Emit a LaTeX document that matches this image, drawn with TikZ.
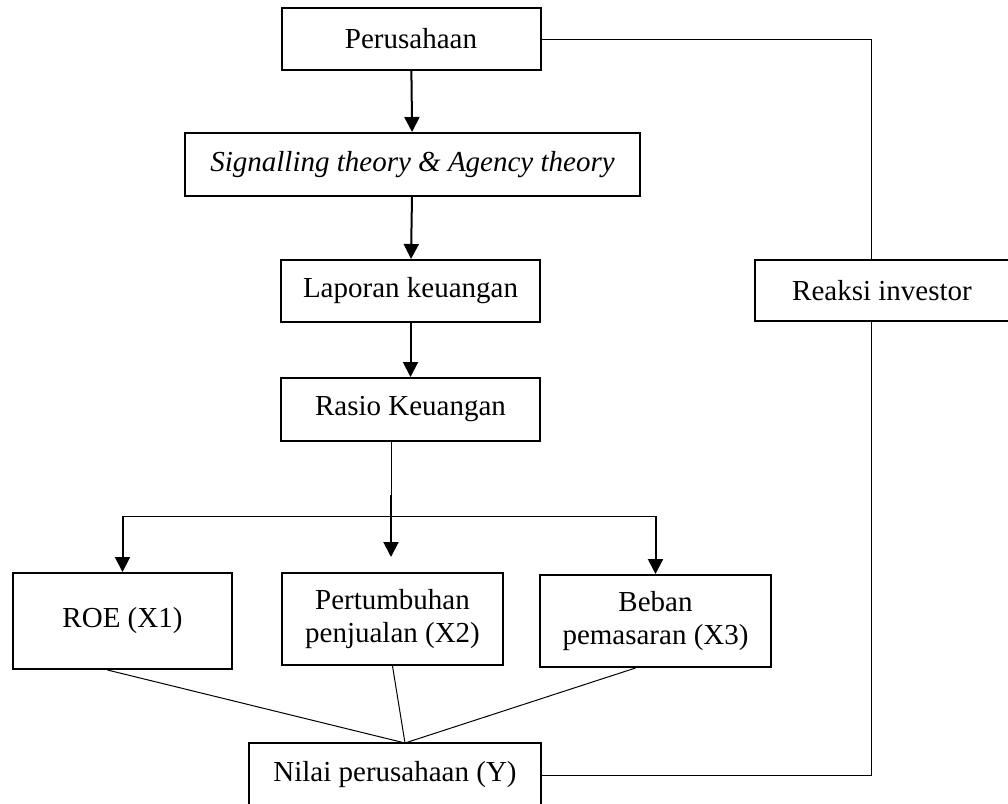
\documentclass[tikz,border=0pt]{standalone}
\usepackage{fontspec}
\setmainfont{Liberation Serif}
\usepackage{tikz}
\usetikzlibrary{arrows.meta,positioning}

\begin{document}
\begin{tikzpicture}[
  x=1pt, y=-1pt,
  font=\fontsize{29}{33}\selectfont,
  box/.style={rectangle, draw, line width=2pt, inner sep=0pt, align=center},
  wide/.style={box, minimum width=259pt, minimum height=62pt},
  var/.style={box, minimum height=92pt},
  link/.style={line width=1pt},
  arrow/.style={-{Triangle[length=15pt,width=15pt]}, line width=2pt}
]
\useasboundingbox (0,0) rectangle (1008,803);

% Main chain
\node[wide] (firm) at (411,39) {Perusahaan};
\node[box, minimum width=455pt, minimum height=63pt] (theory) at (412.5,164.5) {\itshape Signalling theory \& Agency theory};
\node[wide] (report) at (410.5,291) {Laporan keuangan};
\node[wide, minimum height=63pt] (ratio) at (410.5,409.5) {Rasio Keuangan};

% Variables
\node[box, minimum width=219pt, minimum height=96pt] (roe) at (122.5,621) {ROE (X1)};
\node[var, minimum width=221pt] (growth) at (392.5,619) {Pertumbuhan\\penjualan (X2)};
\node[var, minimum width=231pt] (mkt) at (655.5,621) {Beban\\pemasaran (X3)};

% Output
\node[box, minimum width=292pt, minimum height=64pt] (value) at (395,775) {Nilai perusahaan (Y)};
\node[box, minimum width=254pt, minimum height=61pt] (investor) at (882,290.5) {Reaksi investor};

% Helper points
\coordinate (split) at (391,516);
\coordinate (bend) at (391,495);
\coordinate (midtip) at (391,557);
\coordinate (corner) at (871,39);
\coordinate (meet) at (405,743);

% Arrows
\draw[arrow] (firm) -- (theory);
\draw[arrow] (theory) -- (report);
\draw[arrow] (report) -- (ratio);
\draw[link] (split |- ratio.south) -- (split);
\draw[arrow] (bend) -- (midtip);
\draw[link] (roe.north |- split) -- (mkt.north |- split);
\draw[arrow] (roe.north |- split) -- (roe.north);
\draw[arrow] (mkt.north |- split) -- (mkt.north);

% Lines to firm value
\draw[link] ([xshift=-15pt]roe.south) -- (meet);
\draw[link] (growth.south) -- (meet);
\draw[link] ([xshift=-20pt]mkt.south) -- (meet);

% Investor loop
\draw[link] (firm.east) -- (corner) -- (corner |- investor.north);
\draw[link] (corner |- investor.south) -- (corner |- value.east) -- (value.east);

\end{tikzpicture}
\end{document}
